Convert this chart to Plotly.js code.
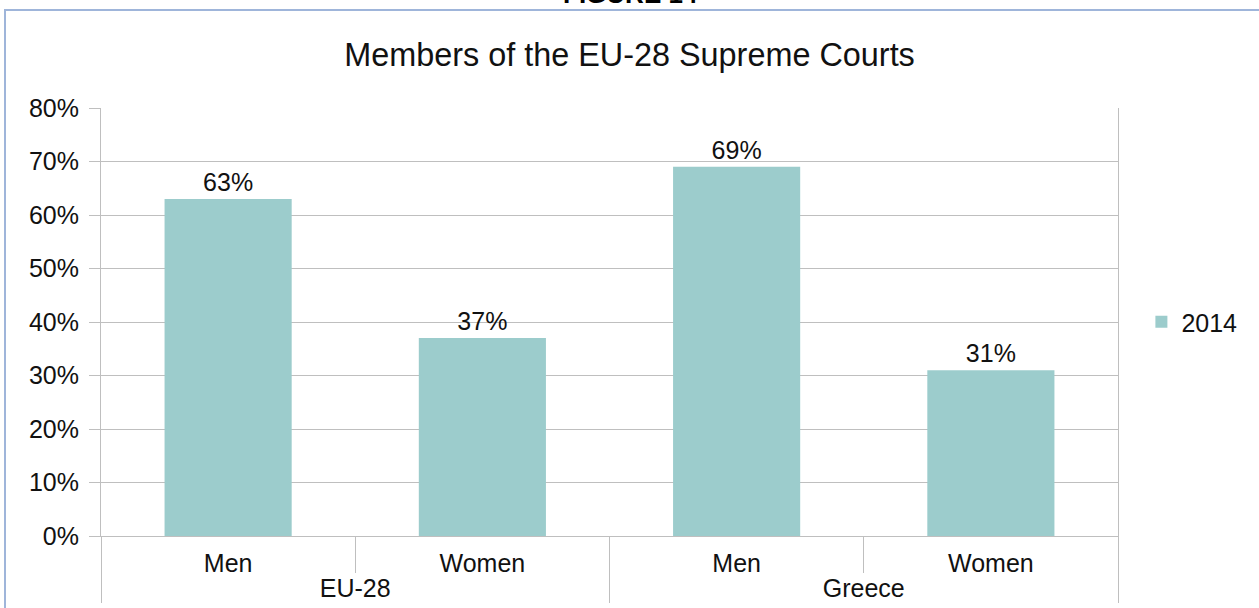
<!DOCTYPE html>
<html>
<head>
<meta charset="utf-8">
<script src="https://cdn.plot.ly/plotly-3.0.1.min.js"></script>
<style>html,body{margin:0;padding:0;background:#fff;}#chart{width:1259px;height:608px;}</style>
</head>
<body>
<div id="chart"></div>
<script>
const groups = ["EU-28", "EU-28", "Greece", "Greece"];
const genders = ["Men", "Women", "Men", "Women"];
const values2014 = [0.63, 0.37, 0.69, 0.31];
const seriesName = "2014";
const chartTitle = "Members of the EU-28 Supreme Courts";
const figureLabel = "FIGURE 14";

const FONT = "Liberation Sans, Arial, sans-serif";
const TXT = "#111111";
const GRID = "#bfbfbf";

const trace = {
  type: "bar",
  x: [groups, genders],
  y: values2014,
  name: seriesName,
  marker: {color: "#9ccccc"},
  texttemplate: "%{y:.0%}",
  textposition: "outside",
  textfont: {family: FONT, size: 25, color: TXT},
  cliponaxis: false,
  showlegend: true,
  hoverinfo: "none"
};

const layout = {
  width: 1259, height: 608,
  margin: {l: 101, r: 141, t: 108, b: 72},
  paper_bgcolor: "#ffffff", plot_bgcolor: "#ffffff",
  font: {family: FONT, color: TXT, size: 25},
  title: {text: chartTitle, x: 0.5, xref: "container", y: 1 - 55/608, yref: "container", yanchor: "middle",
          font: {family: FONT, size: 32.4, color: TXT}},
  bargap: 0.5,
  showlegend: true,
  legend: {x: 1.023, xanchor: "left", y: 0.5, yanchor: "middle", font: {family: FONT, size: 25, color: TXT},
           itemwidth: 30, bgcolor: "rgba(0,0,0,0)"},
  xaxis: {
    type: "multicategory",
    showline: true, linecolor: GRID, linewidth: 1,
    ticks: "outside", tickson: "boundaries", ticklen: 36, tickcolor: GRID, tickwidth: 1,
    ticklabelstandoff: 5,
    showdividers: true, dividercolor: GRID, dividerwidth: 1,
    tickfont: {family: FONT, size: 25, color: TXT},
    showgrid: false
  },
  yaxis: {
    range: [0, 0.8], dtick: 0.1, tickformat: ".0%",
    showline: true, linecolor: GRID, linewidth: 1, mirror: true,
    ticks: "outside", ticklen: 11, tickcolor: GRID, tickwidth: 1,
    ticklabelstandoff: 5,
    gridcolor: GRID, gridwidth: 1, zeroline: false,
    tickfont: {family: FONT, size: 25, color: TXT}
  },
  shapes: [{
    type: "rect", xref: "paper", yref: "paper",
    x0: (5 - 101) / 1017, x1: (1270 - 101) / 1017,
    y0: (536 - 630) / 428, y1: (536 - 10) / 428,
    line: {color: "#9fb5da", width: 2}, fillcolor: "rgba(0,0,0,0)", layer: "below"
  }],
  annotations: [{
    text: "<b>" + figureLabel + "</b>", xref: "paper", yref: "paper",
    x: (630 - 101) / 1017, y: (536 - 11) / 428, xanchor: "center", yanchor: "bottom",
    showarrow: false, font: {family: FONT, size: 26, color: "#000"}
  }]
};

Plotly.newPlot("chart", [trace], layout, {displayModeBar: false, staticPlot: true});
</script>
</body>
</html>
